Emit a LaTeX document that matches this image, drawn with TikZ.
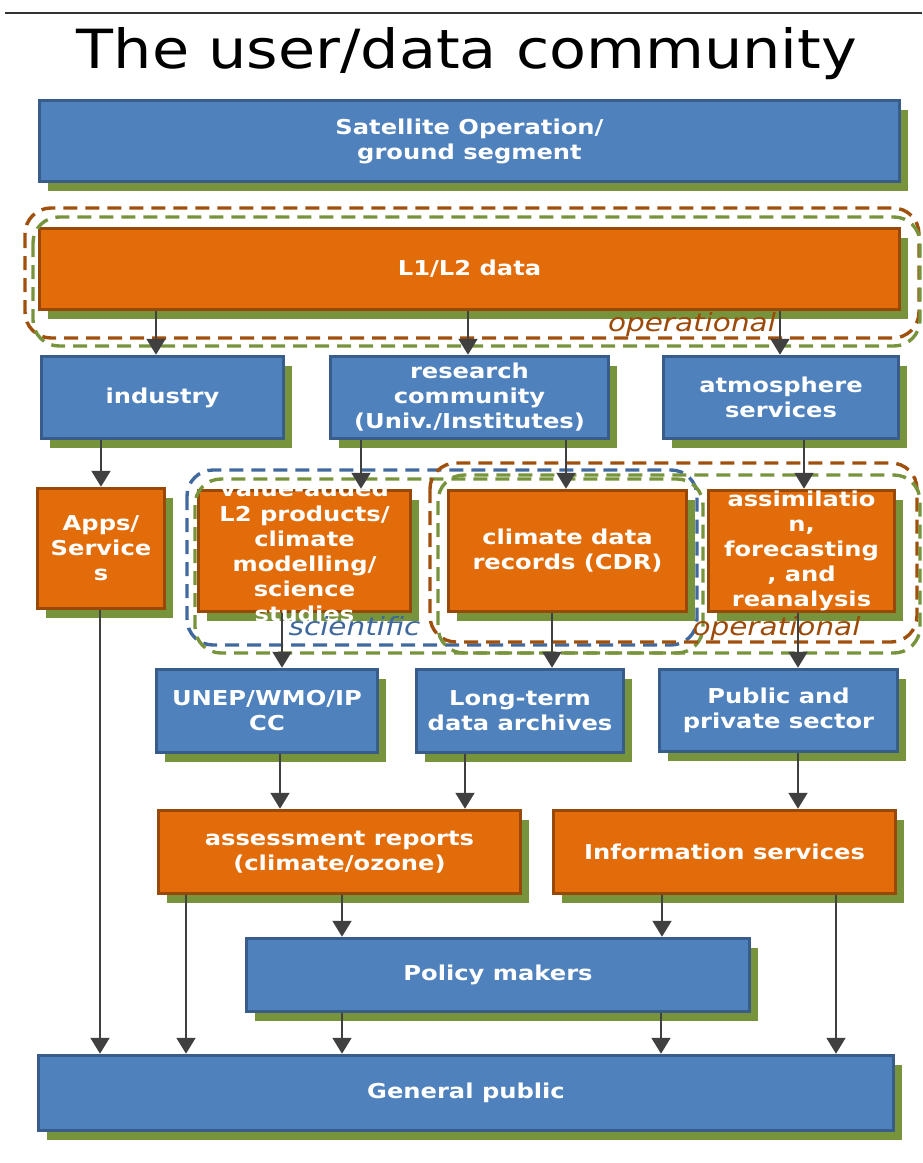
\documentclass[tikz,border=0pt]{standalone}
\usepackage{fontspec}
\setmainfont[FakeStretch=1.18]{DejaVu Sans}
\newfontfamily\titlefont[FakeStretch=1.12]{DejaVu Sans}
\usetikzlibrary{arrows.meta,shadows}
\definecolor{bfill}{HTML}{4F81BD}
\definecolor{bborder}{HTML}{385D8A}
\definecolor{ofill}{HTML}{E36C0A}
\definecolor{oborder}{HTML}{984807}
\definecolor{sgreen}{HTML}{77933C}
\definecolor{agray}{HTML}{404040}
\definecolor{dbrown}{HTML}{A0500D}
\definecolor{dblue}{HTML}{41699E}
\definecolor{optext}{HTML}{9C4A0A}
\definecolor{scitext}{HTML}{3F679C}
\begin{document}
\begin{tikzpicture}[x=1pt,y=-1pt,
  boxtext/.style={inner sep=0pt, align=center, text=white, font=\fontsize{20.5}{25}\selectfont\bfseries},
  box/.style={boxtext, rectangle, line width=3.5pt,
    general shadow={fill=sgreen, shadow xshift=8pt, shadow yshift=-9pt}},
  bbox/.style={box, draw=bborder, fill=bfill},
  obox/.style={box, draw=oborder, fill=ofill},
  arr/.style={line width=2pt, draw=agray, -{Triangle[width=19pt,length=16pt]}},
  frame/.style={line width=3.4pt, rounded corners=26pt, dash pattern=on 14pt off 8pt},
  lbl/.style={font=\fontsize{25}{30}\selectfont\itshape, anchor=base, inner sep=0pt}]
\useasboundingbox (0,0) rectangle (922,1163);
\draw[line width=1.5pt, draw=black!80] (5,13) -- (922,13);
\node[font=\titlefont\fontsize{54}{60}\selectfont, anchor=base, inner sep=0pt] (title) at (467,68) {The user/data community};

% row 1-2
\node[bbox, minimum width=860pt, minimum height=81pt] (sat) at (469.5,141) {Satellite Operation/\\ground segment};
\node[obox, minimum width=860pt, minimum height=81pt] (l12) at (469.5,269) {L1/L2 data};
% row 3
\node[bbox, minimum width=242pt, minimum height=82pt] (ind) at (162.5,397.5) {industry};
\node[bbox, minimum width=278pt, minimum height=82pt] (res) at (469.5,397.5) {research\\community\\(Univ./Institutes)};
\node[bbox, minimum width=235pt, minimum height=82pt] (atm) at (781,397.5) {atmosphere\\services};
% row 4
\node[obox, minimum width=127pt, minimum height=120pt] (apps) at (101,548.5) {Apps/\\Service\\s};
\node[obox, minimum width=212pt, minimum height=121pt] (va) at (304.5,551) {};
\begin{scope}
\clip (0,484.5) rectangle (922,700);
\node[boxtext] (vatext) at (va.center) {value-added\\L2 products/\\climate\\modelling/\\science\\studies};
\end{scope}
\node[obox, minimum width=238pt, minimum height=121pt] (cdr) at (567.5,551) {climate data\\records (CDR)};
\node[obox, minimum width=186pt, minimum height=121pt] (asm) at (801.5,551) {assimilatio\\n,\\forecasting\\, and\\reanalysis};
% row 5
\node[bbox, minimum width=221pt, minimum height=83pt] (unep) at (267,711) {UNEP/WMO/IP\\CC};
\node[bbox, minimum width=207pt, minimum height=83pt] (lt) at (520,711) {Long-term\\data archives};
\node[bbox, minimum width=238pt, minimum height=82pt] (pub) at (778.5,710.5) {Public and\\private sector};
% row 6
\node[obox, minimum width=362pt, minimum height=83pt] (ass) at (339.5,852) {assessment reports\\(climate/ozone)};
\node[obox, minimum width=342pt, minimum height=83pt] (info) at (724.5,852) {Information services};
% row 7-8
\node[bbox, minimum width=503pt, minimum height=73pt] (pol) at (498,975) {Policy makers};
\node[bbox, minimum width=855pt, minimum height=75pt] (gen) at (466,1093) {General public};

% dashed frames
\draw[frame, draw=dbrown] (25,208) rectangle (919,338);
\draw[frame, draw=sgreen] (33,217) rectangle (920,346);
\draw[frame, draw=dblue] (187,470) rectangle (697,645);
\draw[frame, draw=sgreen] (195,479) rectangle (703,653);
\draw[frame, draw=dbrown] (430,463) rectangle (917,642);
\draw[frame, draw=sgreen] (438,475) rectangle (920,653);

% labels
\node[lbl, text=optext] (op1) at (692,331) {operational};
\node[lbl, text=scitext] (sci) at (354.5,635) {scientific};
\node[lbl, text=optext] (op2) at (776.5,635) {operational};

% arrows
\draw[arr] (156,0 |- l12.south) -- (156,0 |- ind.north);
\draw[arr] (468,0 |- l12.south) -- (468,0 |- res.north);
\draw[arr] (780,0 |- l12.south) -- (780,0 |- atm.north);
\draw[arr] (101,0 |- ind.south) -- (101,0 |- apps.north);
\draw[arr] (361,0 |- res.south) -- (361,0 |- va.north);
\draw[arr] (566,0 |- res.south) -- (566,0 |- cdr.north);
\draw[arr] (804,0 |- atm.south) -- (804,0 |- asm.north);
\draw[arr] (282,0 |- va.south) -- (282,0 |- unep.north);
\draw[arr] (552,0 |- cdr.south) -- (552,0 |- lt.north);
\draw[arr] (798,0 |- asm.south) -- (798,0 |- pub.north);
\draw[arr] (100,0 |- apps.south) -- (100,0 |- gen.north);
\draw[arr] (280,0 |- unep.south) -- (280,0 |- ass.north);
\draw[arr] (465,0 |- lt.south) -- (465,0 |- ass.north);
\draw[arr] (798,0 |- pub.south) -- (798,0 |- info.north);
\draw[arr] (186,0 |- ass.south) -- (186,0 |- gen.north);
\draw[arr] (342,0 |- ass.south) -- (342,0 |- pol.north);
\draw[arr] (662,0 |- info.south) -- (662,0 |- pol.north);
\draw[arr] (836,0 |- info.south) -- (836,0 |- gen.north);
\draw[arr] (342,0 |- pol.south) -- (342,0 |- gen.north);
\draw[arr] (661,0 |- pol.south) -- (661,0 |- gen.north);
\end{tikzpicture}
\end{document}
